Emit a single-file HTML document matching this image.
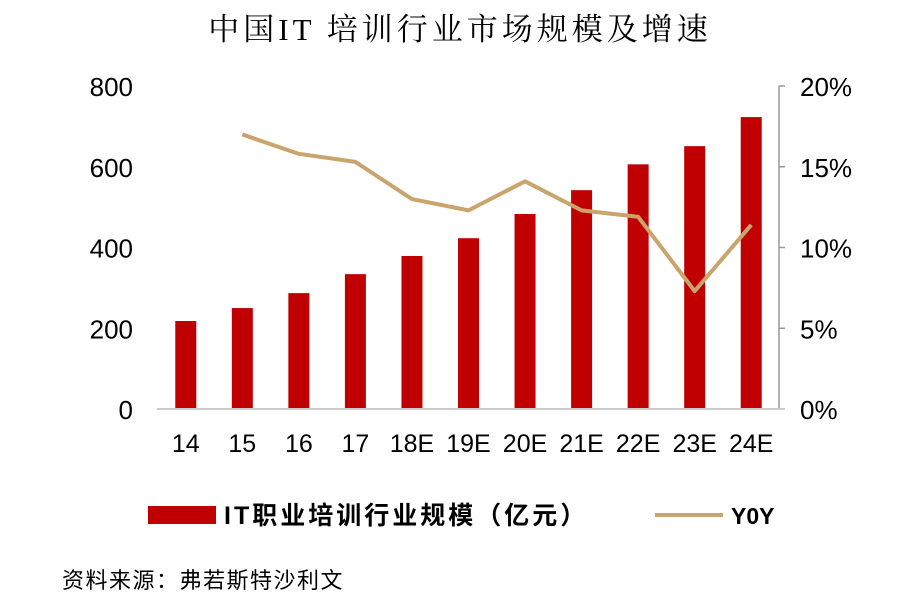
<!DOCTYPE html>
<html><head><meta charset="utf-8"><style>
body{margin:0;background:#fff;width:902px;height:601px;overflow:hidden}
text{font-family:"Liberation Sans","Noto Sans CJK SC",sans-serif}
</style></head><body>
<svg id="c" width="902" height="601" xmlns="http://www.w3.org/2000/svg">
<text x="460" y="40" text-anchor="middle" font-size="31" letter-spacing="4" style="font-family:'Liberation Serif','Noto Serif CJK SC',serif">中国IT 培训行业市场规模及增速</text>
<g id="plot"></g>
<g>
<rect x="148" y="506" width="68" height="18" fill="#C00000"/>
<text x="224" y="524" font-size="25" font-weight="bold" letter-spacing="3">IT职业培训行业规模（亿元）</text>
<line x1="655" y1="515" x2="723" y2="515" stroke="#C9A46C" stroke-width="4"/>
<text x="731" y="524" font-size="23" font-weight="bold">Y0Y</text>
</g>
<text x="62" y="588" font-size="22" letter-spacing="1.5">资料来源：弗若斯特沙利文</text>
</svg>
<script>
const categories=["14","15","16","17","18E","19E","20E","21E","22E","23E","24E"];
const sizeValues=[218,250,287,334,379,423,483,542,606,651,723];
const yoyValues=[null,17.0,15.8,15.3,13.0,12.3,14.1,12.3,11.9,7.3,11.4];
const leftTicks=[0,200,400,600,800];
const rightTicks=[0,5,10,15,20];
const NS="http://www.w3.org/2000/svg";
const g=document.getElementById('plot');
const X0=157,X1=779,Y0=409,Y1=86;
const step=(X1-X0)/categories.length;
const xs=i=>X0+step*(i+0.5)+0.5;
const yl=v=>Y0-(v/800)*(Y0-Y1);
const yr=v=>Y0-(v/20)*(Y0-Y1);
function mk(t,a){const e=document.createElementNS(NS,t);for(const k in a)e.setAttribute(k,a[k]);g.appendChild(e);return e;}
leftTicks.forEach(v=>{const t=mk('text',{x:133,y:yl(v)+10,'text-anchor':'end','font-size':26});t.textContent=v;

});
rightTicks.forEach(v=>{const t=mk('text',{x:800,y:yr(v)+10,'font-size':26});t.textContent=v+'%';


const l=mk('line',{x1:X1,x2:X1+6,y1:yr(v),y2:yr(v),stroke:'#999','stroke-width':1.5});

});
const ax=mk('line',{x1:X1,x2:X1,y1:Y1,y2:Y0,stroke:'#999','stroke-width':1.5});


sizeValues.forEach((v,i)=>{const r=mk('rect',{x:xs(i)-10.5,y:yl(v),width:21,height:Y0-yl(v),fill:'#C00000'});

});
const xa=mk('line',{x1:X0,x2:X1+6,y1:Y0,y2:Y0,stroke:'#ccc','stroke-width':2});


categories.forEach((c,i)=>{const t=mk('text',{x:xs(i),y:452,'text-anchor':'middle','font-size':25});t.textContent=c;

});
let d='';yoyValues.forEach((v,i)=>{if(v==null)return;d+=(d?'L':'M')+xs(i)+','+yr(v);});
const p=mk('path',{d:d,fill:'none',stroke:'#C9A46C','stroke-width':4,'stroke-linejoin':'round'});


</script>
</body></html>
